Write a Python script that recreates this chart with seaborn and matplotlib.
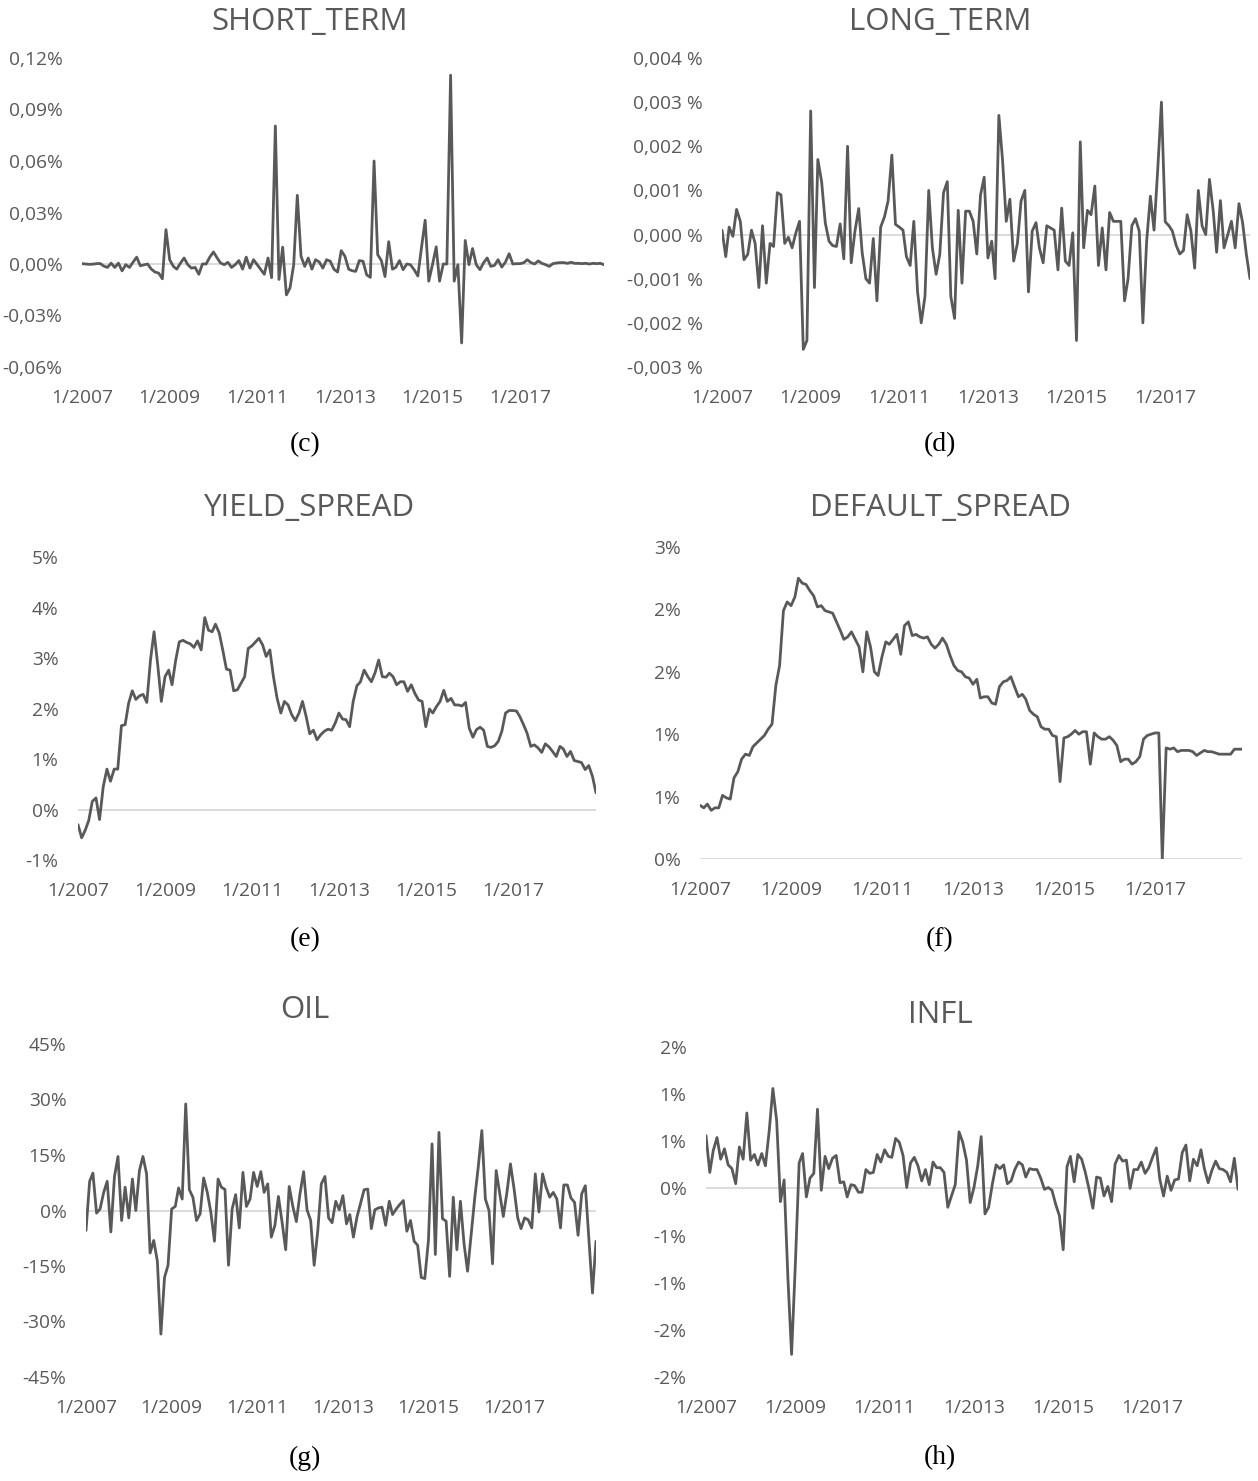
import numpy as np
import pandas as pd
import matplotlib
matplotlib.use("Agg")
import matplotlib.pyplot as plt
import seaborn as sns

# monthly observations 1/2007 .. 12/2018
months = pd.date_range("2007-01-01", periods=144, freq="MS")
x_tick_dates = pd.to_datetime(["2007-01-01", "2009-01-01", "2011-01-01",
                               "2013-01-01", "2015-01-01", "2017-01-01"])
x_tick_labels = ["1/2007", "1/2009", "1/2011", "1/2013", "1/2015", "1/2017"]

# values in percent
short_term = [
    0.0002, 0.0, -0.0002, -0.0001, 0.0002, 0.0003, -0.0012, -0.002, 0.0005, -0.002, 0.0005, -0.004,
    -0.0004, -0.002, 0.001, 0.004, -0.001, -0.0005, 0.0, -0.003, -0.0047, -0.0053, -0.0086, 0.020,
    0.0025, -0.0014, -0.003, 0.0005, 0.0035, -0.0004, -0.0024, -0.002, -0.006, 0.0, 0.0, 0.004,
    0.007, 0.0035, 0.0006, -0.0004, 0.001, -0.002, -0.0004, 0.002, -0.003, 0.004, -0.0024, 0.0025,
    -0.0004, -0.0033, -0.006, 0.0035, -0.008, 0.0804, -0.009, 0.0098, -0.018, -0.014, -0.0004, 0.040,
    0.0045, -0.0014, 0.0035, -0.003, 0.0025, 0.0012, -0.0024, 0.0025, 0.0016, -0.003, -0.0047, 0.0078,
    0.0045, -0.003, -0.0039, -0.0043, 0.002, 0.0016, -0.0063, -0.0078, 0.060, 0.0055, 0.002, -0.0073,
    0.013, -0.003, -0.002, 0.002, -0.0033, 0.0, -0.0004, -0.0033, -0.007, 0.0094, 0.0255, -0.010,
    -0.0004, 0.010, -0.010, 0.0, 0.0, 0.110, -0.010, -0.0004, -0.046, 0.0137, -0.0004, 0.009,
    -0.0004, -0.0033, 0.0006, 0.0035, -0.0014, -0.0008, 0.0025, -0.0018, 0.0012, 0.006, 0.0, 0.0002,
    0.0002, 0.0008, 0.0025, 0.0008, 0.0, 0.0018, 0.0004, -0.0004, -0.0014, 0.0002, 0.0006, 0.0008,
    0.0008, 0.0004, 0.001, 0.0004, 0.0004, 0.0002, 0.0004, 0.0, 0.0004, 0.0002, 0.0004, -0.0004,
]

long_term = [
    0.0001, -0.0005, 0.00017, -0.00004, 0.00057, 0.0003, -0.00057, -0.00045, 0.0001, -0.0002, -0.0012, 0.0002,
    -0.0011, -0.0002, -0.00027, 0.00095, 0.0009, -0.0002, -0.00006, -0.0003, 0.00004, 0.0003, -0.0026, -0.0024,
    0.0028, -0.0012, 0.0017, 0.0012, 0.00027, -0.00015, -0.00025, -0.00027, 0.00024, -0.00055, 0.002, -0.00064,
    0.00008, 0.00059, -0.0004, -0.001, -0.0011, -0.00009, -0.0015, 0.00017, 0.0004, 0.00076, 0.0018, 0.00023,
    0.00017, 0.0001, -0.0005, -0.0007, 0.0003, -0.0013, -0.002, -0.0014, 0.001, -0.0003, -0.0009, -0.00045,
    0.00095, 0.0012, -0.0014, -0.0019, 0.00055, -0.0011, 0.00053, 0.00053, 0.0003, -0.00044, 0.0009, 0.0013,
    -0.00053, -0.00015, -0.001, 0.0027, 0.0017, 0.0003, 0.0008, -0.0006, -0.0002, 0.00076, 0.001, -0.0013,
    0.00008, 0.00027, -0.0003, -0.00064, 0.0002, 0.00015, 0.0001, -0.0008, 0.0006, -0.0006, -0.0007, 0.00004,
    -0.0024, 0.0021, -0.0003, 0.00055, 0.00045, 0.0011, -0.0007, 0.00015, -0.0008, 0.0005, 0.0003, 0.0003,
    0.0003, -0.0015, -0.001, 0.0002, 0.00036, 0.00008, -0.002, -0.00015, 0.00087, 0.0001, 0.0015, 0.003,
    0.00029, 0.0002, 0.00008, -0.00024, -0.00044, -0.00036, 0.00045, 0.00008, -0.00076, 0.001, 0.0002, 0.0,
    0.00125, 0.00053, -0.0004, 0.00077, -0.0003, 0.0, 0.0003, -0.0003, 0.0007, 0.00027, -0.00045, -0.001,
]

yield_spread = [
    -0.30, -0.56, -0.42, -0.22, 0.16, 0.23, -0.20, 0.45, 0.80, 0.56, 0.80, 0.80,
    1.66, 1.68, 2.10, 2.35, 2.18, 2.25, 2.28, 2.12, 2.96, 3.52, 2.86, 2.14,
    2.63, 2.76, 2.47, 2.96, 3.32, 3.35, 3.31, 3.28, 3.21, 3.34, 3.16, 3.80,
    3.55, 3.52, 3.67, 3.50, 3.16, 2.78, 2.76, 2.35, 2.37, 2.50, 2.63, 3.19,
    3.24, 3.32, 3.39, 3.26, 3.03, 3.16, 2.63, 2.20, 1.91, 2.14, 2.07, 1.88,
    1.76, 1.91, 2.14, 1.84, 1.50, 1.57, 1.38, 1.48, 1.55, 1.59, 1.57, 1.71,
    1.91, 1.79, 1.78, 1.64, 2.14, 2.45, 2.53, 2.76, 2.63, 2.53, 2.71, 2.96,
    2.63, 2.62, 2.70, 2.63, 2.47, 2.53, 2.53, 2.34, 2.47, 2.30, 2.17, 2.14,
    1.64, 1.99, 1.91, 2.04, 2.14, 2.36, 2.14, 2.20, 2.07, 2.07, 2.05, 2.12,
    1.61, 1.43, 1.58, 1.63, 1.57, 1.25, 1.23, 1.26, 1.35, 1.55, 1.91, 1.96,
    1.96, 1.95, 1.84, 1.68, 1.51, 1.25, 1.28, 1.22, 1.13, 1.30, 1.24, 1.15,
    1.05, 1.25, 1.20, 1.05, 1.15, 0.97, 0.95, 0.93, 0.79, 0.87, 0.66, 0.33,
]

default_spread = [
    0.43, 0.41, 0.44, 0.39, 0.41, 0.41, 0.51, 0.49, 0.48, 0.65, 0.70, 0.80,
    0.84, 0.83, 0.90, 0.93, 0.96, 0.99, 1.04, 1.08, 1.39, 1.55, 1.99, 2.06,
    2.03, 2.10, 2.25, 2.21, 2.20, 2.15, 2.11, 2.02, 2.03, 1.99, 1.98, 1.97,
    1.90, 1.83, 1.76, 1.78, 1.82, 1.76, 1.70, 1.50, 1.82, 1.70, 1.50, 1.47,
    1.62, 1.74, 1.72, 1.76, 1.80, 1.64, 1.87, 1.90, 1.79, 1.80, 1.78, 1.77,
    1.78, 1.72, 1.69, 1.72, 1.77, 1.72, 1.63, 1.55, 1.51, 1.50, 1.46, 1.45,
    1.40, 1.44, 1.29, 1.30, 1.30, 1.25, 1.24, 1.38, 1.42, 1.43, 1.46, 1.38,
    1.30, 1.32, 1.28, 1.19, 1.16, 1.14, 1.06, 1.04, 1.04, 0.99, 0.98, 0.62,
    0.97, 0.98, 1.00, 1.03, 1.00, 1.02, 1.02, 0.76, 1.01, 0.98, 0.96, 0.96,
    0.98, 0.95, 0.91, 0.78, 0.80, 0.80, 0.76, 0.78, 0.82, 0.96, 0.99, 1.00,
    1.01, 1.01, 0.00, 0.89, 0.88, 0.89, 0.86, 0.87, 0.87, 0.87, 0.86, 0.83,
    0.85, 0.87, 0.86, 0.86, 0.85, 0.84, 0.84, 0.84, 0.84, 0.88, 0.88, 0.88,
]

oil = [
    -5.4, 7.9, 10.1, -0.7, 0.4, 4.9, 7.9, -5.8, 9.2, 14.6, -2.7, 6.3,
    -2.0, 8.5, 0.0, 10.8, 14.6, 9.9, -11.5, -8.1, -13.7, -33.4, -18.1, -14.8,
    0.4, 1.1, 6.1, 3.1, 28.8, 5.6, 3.6, -2.7, -0.9, 8.8, 4.9, -0.4,
    -8.3, 8.5, 6.3, 5.7, -14.8, 0.4, 4.3, -4.7, 10.3, 1.1, 3.1, 10.3,
    6.5, 10.5, 4.9, 7.2, -7.2, -4.0, 3.8, -3.1, -10.6, 6.5, 1.1, -3.0,
    4.5, 10.5, 0.2, -2.7, -14.8, -5.4, 7.2, 9.2, -2.0, -3.3, 2.5, 0.2,
    4.0, -3.6, -1.1, -7.2, -1.8, 2.0, 5.6, 5.8, -4.9, 0.2, 0.7, 0.9,
    -4.0, 2.5, -1.1, 0.4, 1.6, 2.7, -5.6, -2.7, -8.3, -9.4, -18.1, -18.4,
    -8.1, 18.0, -11.9, 21.1, -2.2, -2.9, -17.8, 3.6, -10.6, 2.5, -9.0, -16.4,
    -6.3, 3.6, 11.7, 21.6, 3.1, 0.0, -14.4, 10.8, 4.5, -1.6, 4.9, 12.6,
    5.8, -2.0, -4.9, -2.0, -2.5, -4.7, 9.9, -0.4, 9.9, 6.3, 3.6, 4.9,
    3.1, -4.7, 6.9, 6.9, 3.4, 2.2, -6.7, 4.5, 6.7, -7.6, -22.3, -8.3,
]

infl = [
    0.56, 0.17, 0.40, 0.54, 0.31, 0.42, 0.25, 0.21, 0.05, 0.44, 0.31, 0.80,
    0.30, 0.36, 0.25, 0.37, 0.24, 0.61, 1.06, 0.72, -0.14, 0.09, -0.95, -1.76,
    -0.80, 0.27, 0.37, -0.09, 0.11, 0.16, 0.84, -0.02, 0.34, 0.21, 0.32, 0.35,
    0.06, 0.07, -0.09, 0.04, 0.03, -0.04, -0.04, 0.20, 0.16, 0.17, 0.36, 0.28,
    0.41, 0.34, 0.33, 0.53, 0.49, 0.35, 0.01, 0.27, 0.33, 0.24, 0.08, 0.20,
    0.04, 0.28, 0.22, 0.22, 0.17, -0.20, -0.08, 0.04, 0.60, 0.49, 0.30, -0.15,
    0.01, 0.24, 0.55, -0.27, -0.20, 0.05, 0.25, 0.21, 0.25, 0.05, 0.08, 0.20,
    0.28, 0.25, 0.12, 0.21, 0.20, 0.20, 0.11, -0.01, 0.01, -0.02, -0.17, -0.29,
    -0.65, 0.23, 0.34, 0.07, 0.36, 0.31, 0.17, -0.01, -0.21, 0.12, 0.11, -0.08,
    0.02, -0.14, 0.26, 0.35, 0.29, 0.30, 0.00, 0.20, 0.20, 0.28, 0.16, 0.22,
    0.33, 0.43, 0.10, -0.08, 0.13, -0.02, 0.09, 0.10, 0.38, 0.46, 0.08, 0.31,
    0.24, 0.41, 0.21, 0.06, 0.19, 0.29, 0.21, 0.20, 0.17, 0.07, 0.32, -0.01,
]

# y axis ticks and the labels as printed in the source
short_ticks = [-0.06, -0.03, 0.0, 0.03, 0.06, 0.09, 0.12]
short_labels = ["-0,06%", "-0,03%", "0,00%", "0,03%", "0,06%", "0,09%", "0,12%"]
long_ticks = [-0.003, -0.002, -0.001, 0.0, 0.001, 0.002, 0.003, 0.004]
long_labels = ["-0,003 %", "-0,002 %", "-0,001 %", "0,000 %", "0,001 %", "0,002 %", "0,003 %", "0,004 %"]
yield_ticks = [-1, 0, 1, 2, 3, 4, 5]
yield_labels = ["-1%", "0%", "1%", "2%", "3%", "4%", "5%"]
default_ticks = [0, 0.5, 1.0, 1.5, 2.0, 2.5]
default_labels = ["0%", "1%", "1%", "2%", "2%", "3%"]
oil_ticks = [-45, -30, -15, 0, 15, 30, 45]
oil_labels = ["-45%", "-30%", "-15%", "0%", "15%", "30%", "45%"]
infl_ticks = [-2.0, -1.5, -1.0, -0.5, 0.0, 0.5, 1.0, 1.5]
infl_labels = ["-2%", "-2%", "-1%", "-1%", "0%", "1%", "1%", "2%"]

for s in [short_term, long_term, yield_spread, default_spread, oil, infl]:
    assert len(s) == 144, len(s)

sns.set_style("white")
plt.rcParams['font.family'] = ['Open Sans', 'DejaVu Sans']

W, H = 1258, 1481
fig = plt.figure(figsize=(W / 100, H / 100), dpi=100)

LINE = "#595959"
TXT = "#595959"
ZERO = "#d9d9d9"

# (name, values, ticks, labels, (x0, x1, ytop, ybottom) in px, title pos, caption, caption pos)
panels = [
    ("SHORT_TERM", short_term, short_ticks, short_labels, (82, 604, 58, 367), (310, 22), "(c)", (305, 445)),
    ("LONG_TERM", long_term, long_ticks, long_labels, (722, 1250, 58, 367), (940, 22), "(d)", (940, 445)),
    ("YIELD_SPREAD", yield_spread, yield_ticks, yield_labels, (78, 596, 557, 860), (310, 508), "(e)", (305, 940)),
    ("DEFAULT_SPREAD", default_spread, default_ticks, default_labels, (700, 1242, 547, 859), (940, 508), "(f)", (940, 940)),
    ("OIL", oil, oil_ticks, oil_labels, (86, 596, 1044, 1377), (305, 1010), "(g)", (305, 1458)),
    ("INFL", infl, infl_ticks, infl_labels, (706, 1238, 1047, 1377), (940, 1015), "(h)", (940, 1458)),
]

for name, vals, yt, yl, (x0, x1, yt_px, yb_px), (tx, ty), cap, (cx, cy) in panels:
    ax = fig.add_axes([x0 / W, 1 - yb_px / H, (x1 - x0) / W, (yb_px - yt_px) / H])
    df = pd.DataFrame({"date": months, "value": vals})
    ax.axhline(0, color=ZERO, lw=1.3, zorder=1)
    sns.lineplot(data=df, x="date", y="value", ax=ax, color=LINE, linewidth=2.0, zorder=2)
    ax.set_xlim(months[0], months[-1])
    ax.set_ylim(yt[0], yt[-1])
    ax.set_yticks(yt)
    ax.set_yticklabels(yl)
    ax.set_xticks(x_tick_dates)
    ax.set_xticklabels(x_tick_labels)
    ax.set_xlabel("")
    ax.set_ylabel("")
    for sp in ax.spines.values():
        sp.set_visible(False)
    ax.tick_params(axis="both", length=0, labelsize=13.8, labelcolor=TXT)
    ax.tick_params(axis="y", pad=14)
    ax.tick_params(axis="x", pad=16)
    ax.patch.set_alpha(0)
    fig.text(tx / W, 1 - ty / H, name, ha="center", va="center", fontsize=22.5, color=TXT)
    fig.text(cx / W, 1 - cy / H, cap, ha="center", va="center", fontsize=20,
             color="black", family=["Liberation Serif", "DejaVu Serif"])

fig.savefig("out.png", dpi=100, facecolor="white")
